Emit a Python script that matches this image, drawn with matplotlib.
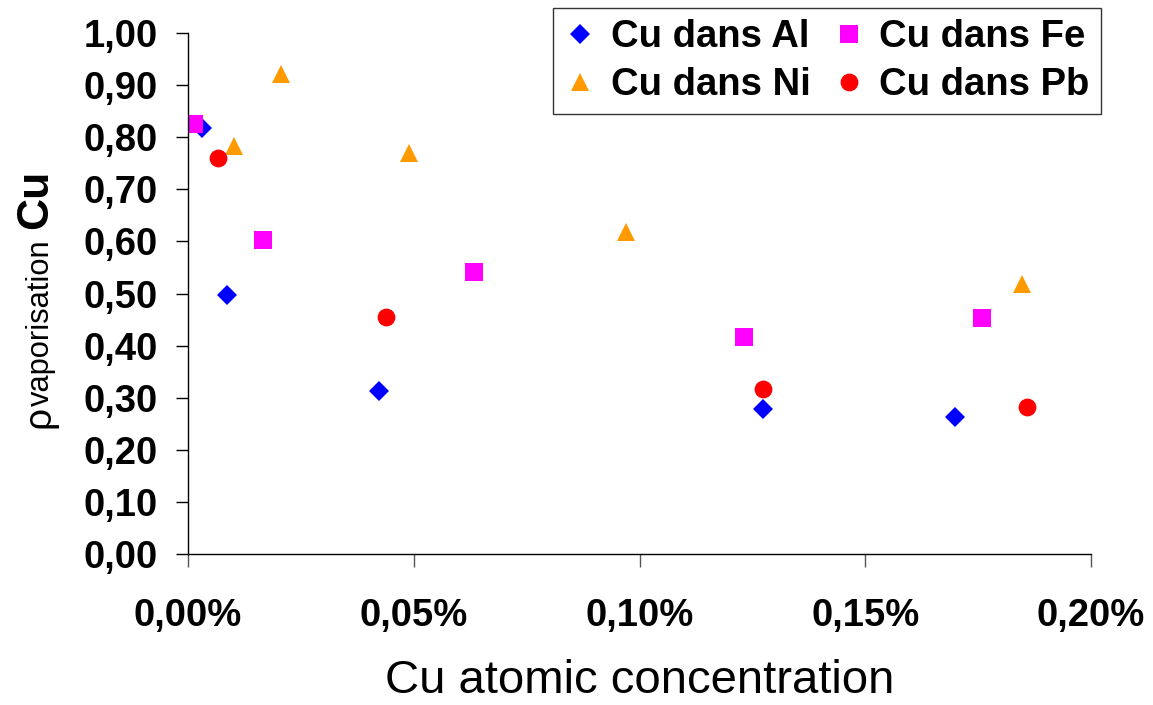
import matplotlib
matplotlib.use('Agg')
import matplotlib.pyplot as plt
from matplotlib.ticker import FixedLocator, FuncFormatter

plt.rcParams['font.family'] = ['Liberation Sans', 'DejaVu Sans']

# Cu atomic concentration (%) and rho vaporisation, per matrix
al_x = [0.0031, 0.0086, 0.0423, 0.1273, 0.1699]
al_y = [0.818, 0.497, 0.313, 0.279, 0.262]
fe_x = [0.0013, 0.0166, 0.0633, 0.1231, 0.1759]
fe_y = [0.825, 0.603, 0.541, 0.417, 0.453]
ni_x = [0.0206, 0.0102, 0.0489, 0.0970, 0.1847]
ni_y = [0.922, 0.784, 0.770, 0.618, 0.518]
pb_x = [0.0066, 0.0439, 0.1273, 0.1858]
pb_y = [0.761, 0.455, 0.317, 0.282]

labels = ['Cu dans Al', 'Cu dans Fe', 'Cu dans Ni', 'Cu dans Pb']
x_ticks = [0.0, 0.05, 0.10, 0.15, 0.20]
y_ticks = [i / 10 for i in range(11)]

W, H = 1153, 705
fig = plt.figure(figsize=(W / 100, H / 100), dpi=100)
ax = fig.add_axes([188 / W, 1 - 554 / H, 903 / W, 521 / H])

h_al, = ax.plot(al_x, al_y, 'D', color='#0000FF', ms=10.3, mew=0, label=labels[0])
h_fe, = ax.plot(fe_x, fe_y, 's', color='#FF00FF', ms=12.4, mew=0, label=labels[1])
h_ni, = ax.plot(ni_x, ni_y, '^', color='#FF9900', ms=13, mew=0, label=labels[2])
h_pb, = ax.plot(pb_x, pb_y, 'o', color='#FF0000', ms=12.8, mew=0, label=labels[3])

ax.set_xlim(0, 0.20)
ax.set_ylim(0, 1.0)
ax.xaxis.set_major_locator(FixedLocator(x_ticks))
ax.yaxis.set_major_locator(FixedLocator(y_ticks))
ax.xaxis.set_major_formatter(FuncFormatter(lambda v, p: f"{v:.2f}%".replace('.', ',')))
ax.yaxis.set_major_formatter(FuncFormatter(lambda v, p: f"{v:.2f}".replace('.', ',')))

for s in ['top', 'right']:
    ax.spines[s].set_visible(False)
for s in ['left', 'bottom']:
    ax.spines[s].set_linewidth(1.0)
    ax.spines[s].set_color('black')

ax.tick_params(axis='y', direction='out', length=9, width=1, color='black', pad=13,
               labelsize=27.5)
ax.tick_params(axis='x', direction='out', length=9, width=1, color='#555555', pad=23,
               labelsize=27.5)
for t in ax.get_xticklabels() + ax.get_yticklabels():
    t.set_fontweight('bold')

ax.set_xlabel('Cu atomic concentration', fontsize=34, labelpad=18)

# y label built from pieces: rho, subscript text, bold Cu
def px(x, y):
    return x / W, 1 - y / H

fig.text(*px(49, 428), '\u03c1', fontsize=28, rotation=90, rotation_mode='anchor',
         ha='left', va='baseline')
fig.text(*px(49, 406), 'vaporisation', fontsize=22.2, rotation=90, rotation_mode='anchor',
         ha='left', va='baseline')
fig.text(*px(47, 229), 'Cu', fontsize=32, fontweight='bold', rotation=90,
         rotation_mode='anchor', ha='left', va='baseline')

leg = fig.legend([h_al, h_ni, h_fe, h_pb],
                 [labels[0], labels[2], labels[1], labels[3]],
                 ncol=2, loc='upper right', bbox_to_anchor=(1101 / W, 1 - 8 / H),
                 bbox_transform=fig.transFigure, borderaxespad=0,
                 prop={'weight': 'bold', 'size': 27.5}, frameon=True, fancybox=False,
                 edgecolor='black', handlelength=0.8, handletextpad=0.4,
                 columnspacing=0.6, labelspacing=0.3, borderpad=0.3, numpoints=1)
leg.get_frame().set_linewidth(1.0)

fig.savefig('out.png', dpi=100)
